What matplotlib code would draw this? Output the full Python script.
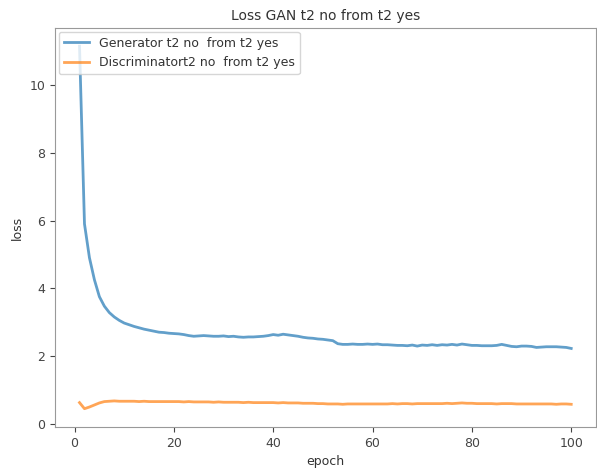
import matplotlib
matplotlib.use("Agg")
import matplotlib.pyplot as plt
import numpy as np

epochs = list(range(1, 101))

generator_loss = [
    11.15, 5.90, 4.90, 4.25, 3.75, 3.47, 3.28, 3.15, 3.05, 2.97,
    2.92, 2.87, 2.83, 2.79, 2.76, 2.73, 2.70, 2.69, 2.67, 2.66,
    2.65, 2.63, 2.60, 2.58, 2.59, 2.60, 2.59, 2.58, 2.58, 2.59,
    2.57, 2.58, 2.56, 2.55, 2.56, 2.56, 2.57, 2.58, 2.60, 2.63,
    2.61, 2.64, 2.62, 2.60, 2.58, 2.55, 2.53, 2.52, 2.50, 2.49,
    2.47, 2.45, 2.36, 2.34, 2.34, 2.35, 2.34, 2.34, 2.35, 2.34,
    2.35, 2.33, 2.33, 2.32, 2.31, 2.31, 2.30, 2.32, 2.29, 2.32,
    2.31, 2.33, 2.31, 2.33, 2.32, 2.34, 2.32, 2.35, 2.33, 2.31,
    2.31, 2.30, 2.30, 2.30, 2.31, 2.34, 2.31, 2.28, 2.27, 2.29,
    2.29, 2.28, 2.25, 2.26, 2.27, 2.27, 2.27, 2.26, 2.25, 2.22,
]

discriminator_loss = [
    0.62, 0.44, 0.49, 0.55, 0.61, 0.65, 0.66, 0.67, 0.66, 0.66,
    0.66, 0.66, 0.65, 0.66, 0.65, 0.65, 0.65, 0.65, 0.65, 0.65,
    0.65, 0.64, 0.65, 0.64, 0.64, 0.64, 0.64, 0.63, 0.64, 0.63,
    0.63, 0.63, 0.63, 0.62, 0.63, 0.62, 0.62, 0.62, 0.62, 0.62,
    0.61, 0.62, 0.61, 0.61, 0.61, 0.60, 0.60, 0.60, 0.59, 0.59,
    0.58, 0.58, 0.58, 0.57, 0.58, 0.58, 0.58, 0.58, 0.58, 0.58,
    0.58, 0.58, 0.58, 0.59, 0.58, 0.59, 0.59, 0.58, 0.59, 0.59,
    0.59, 0.59, 0.59, 0.59, 0.60, 0.59, 0.60, 0.61, 0.60, 0.60,
    0.59, 0.59, 0.59, 0.59, 0.58, 0.59, 0.59, 0.59, 0.58, 0.58,
    0.58, 0.58, 0.58, 0.58, 0.58, 0.58, 0.57, 0.58, 0.58, 0.57,
]

title = "Loss GAN t2 no from t2 yes"
gen_label = "Generator t2 no  from t2 yes"
disc_label = "Discriminatort2 no  from t2 yes"

fig = plt.figure(figsize=(5.97, 4.68), dpi=100)
ax = fig.add_axes([0.092, 0.088, 0.906, 0.852])
ax.plot(epochs, generator_loss, color="#1f77b4", lw=2.0, alpha=0.7, label=gen_label)
ax.plot(epochs, discriminator_loss, color="#ff7f0e", lw=2.0, alpha=0.7, label=disc_label)
ax.set_title(title, fontsize=10, color="#333333")
ax.set_xlabel("epoch", fontsize=9, color="#333333")
ax.set_ylabel("loss", fontsize=9, color="#333333")
ax.tick_params(labelsize=9, colors="#444444")
for s in ax.spines.values():
    s.set_color("#999999")
ax.set_yticks([0, 2, 4, 6, 8, 10])
ax.set_xticks([0, 20, 40, 60, 80, 100])
leg = ax.legend(loc="upper left", fontsize=9, borderaxespad=0.3)
for t in leg.get_texts():
    t.set_color("#333333")
fig.savefig("out.png", dpi=100)
